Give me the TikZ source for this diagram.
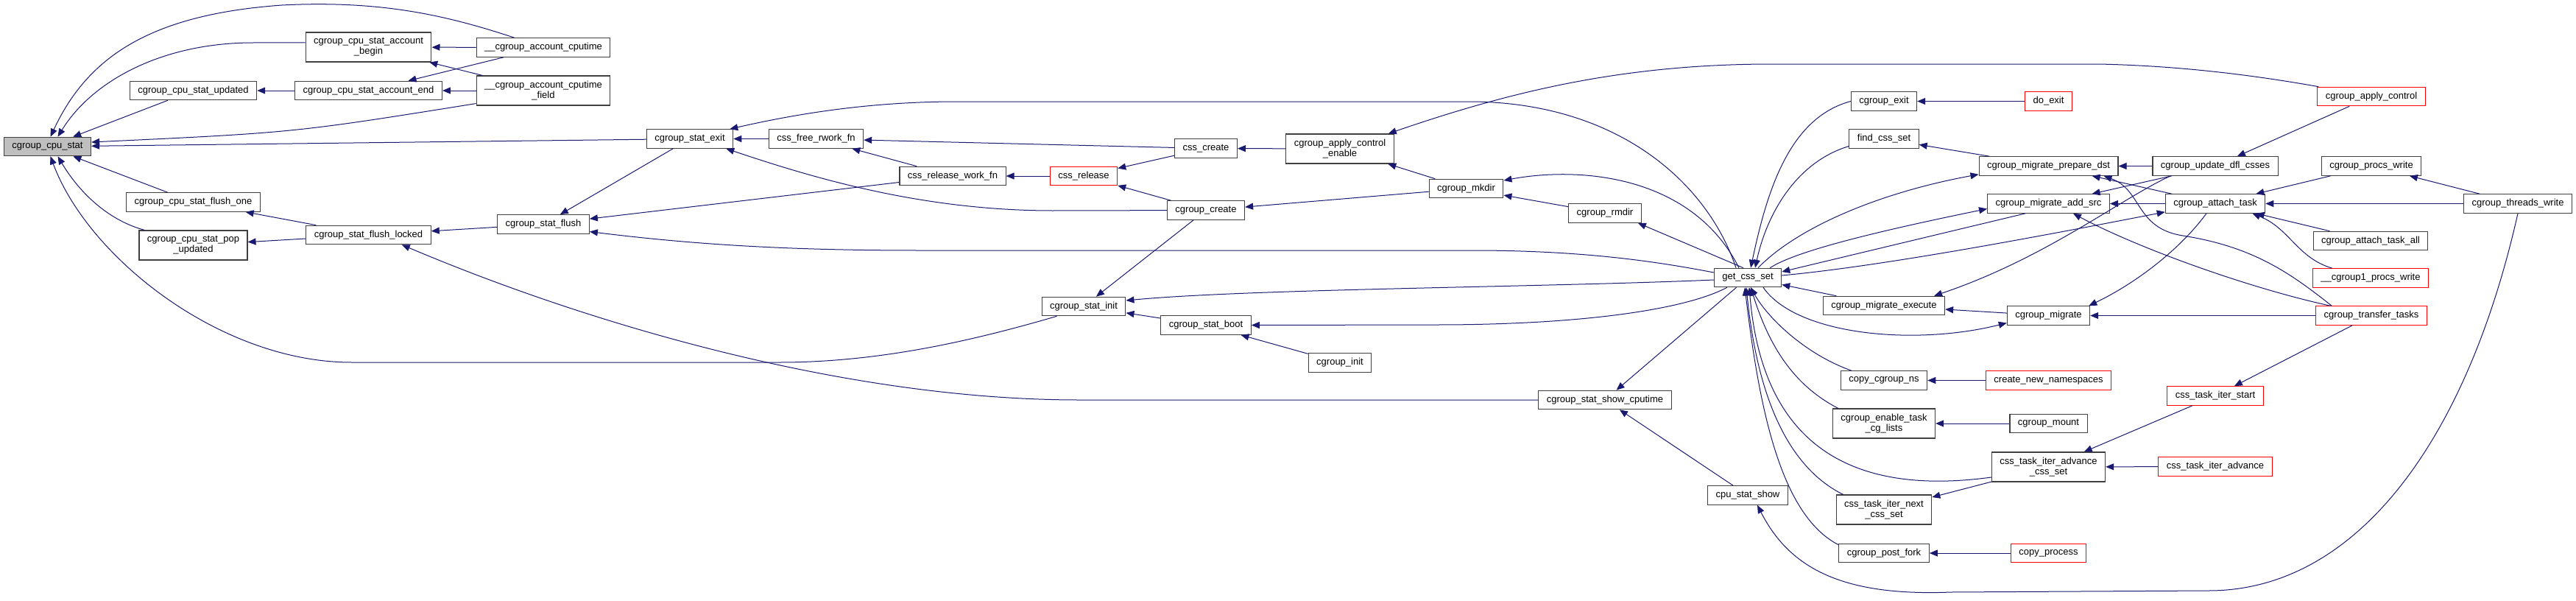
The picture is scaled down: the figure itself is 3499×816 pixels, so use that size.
\documentclass[tikz,border=0pt]{standalone}
\usepackage{fontspec}
\setmainfont{Liberation Sans}
\usepackage{tikz}
\usetikzlibrary{arrows.meta, calc}
\definecolor{edgecol}{RGB}{25,25,112}
\definecolor{rootgray}{RGB}{191,191,191}

\begin{document}
\begin{tikzpicture}[
        x=1pt, y=-1pt,
        box/.style={draw=black!75, fill=white, line width=1.1pt, inner xsep=11pt, inner ysep=2pt, minimum height=25.5pt, align=center, font=\fontsize{13}{14}\selectfont},
        tall/.style={box, minimum height=40pt},
        redbox/.style={box, draw=red},
        rootbox/.style={box, fill=rootgray},
        arr/.style={{Triangle[length=11pt, width=9pt]}-, draw=edgecol, line width=1pt}
      ]
        \useasboundingbox (0,0) rectangle (3499,816);
        \node[rootbox] (cpustat)     at (64.5,199)   {cgroup\_cpu\_stat};
        \node[tall]    (acctbegin)   at (500.5,64)   {cgroup\_cpu\_stat\_account\\\_begin};
        \node[box]     (statupdated) at (262.5,123)  {cgroup\_cpu\_stat\_updated};
        \node[box]     (acctend)     at (500.5,123)  {cgroup\_cpu\_stat\_account\_end};
        \node[box]     (flushone)    at (262.5,274.5){cgroup\_cpu\_stat\_flush\_one};
        \node[tall]    (popupdated)  at (262.5,333)  {cgroup\_cpu\_stat\_pop\\\_updated};
        \node[box]     (flushlocked) at (500.5,319)  {cgroup\_stat\_flush\_locked};
        \node[box]     (acctcputime) at (738,64.5)   {\_\_cgroup\_account\_cputime};
        \node[tall]    (acctfield)   at (738,123)    {\_\_cgroup\_account\_cputime\\\_field};
        \node[box]     (statexit)    at (937,188.5)  {cgroup\_stat\_exit};
        \node[box]     (freerwork)   at (1108.5,188.5) {css\_free\_rwork\_fn};
        \node[box]     (statflush)   at (738,304.5)  {cgroup\_stat\_flush};
        \node[box]     (releasework) at (1294,239)   {css\_release\_work\_fn};
        \node[redbox]  (cssrelease)  at (1472,239)   {css\_release};
        \node[box]     (csscreate)   at (1638,201.5) {css\_create};
        \node[box]     (cgcreate)    at (1638,285.5) {cgroup\_create};
        \node[box]     (statinit)    at (1472,416)   {cgroup\_stat\_init};
        \node[box]     (statboot)    at (1638,441.5) {cgroup\_stat\_boot};
        \node[tall]    (applyenable) at (1820,202)   {cgroup\_apply\_control\\\_enable};
        \node[box]     (mkdir)       at (1991.5,256) {cgroup\_mkdir};
        \node[box]     (rmdir)       at (2180,289.5) {cgroup\_rmdir};
        \node[box]     (cginit)      at (1820,492.5) {cgroup\_init};
        \node[box]     (showcputime) at (2180,543)   {cgroup\_stat\_show\_cputime};
        \node[box]     (cpustatshow) at (2374,672.5) {cpu\_stat\_show};
        \node[box]     (getcssset)   at (2374,377)   {get\_css\_set};
        \node[box]     (cgexit)      at (2559,137.5) {cgroup\_exit};
        \node[redbox]  (doexit)      at (2782.5,137.5) {do\_exit};
        \node[box]     (findcssset)  at (2559,188.5) {find\_css\_set};
        \node[box]     (preparedst)  at (2782.5,225.5) {cgroup\_migrate\_prepare\_dst};
        \node[box]     (addsrc)      at (2782.5,276.5) {cgroup\_migrate\_add\_src};
        \node[box]     (migexec)     at (2559,415)   {cgroup\_migrate\_execute};
        \node[box]     (migrate)     at (2782.5,428.5) {cgroup\_migrate};
        \node[box]     (copyns)      at (2559,516.5) {copy\_cgroup\_ns};
        \node[redbox]  (newns)       at (2782.5,516.5) {create\_new\_namespaces};
        \node[tall]    (enablelists) at (2559,575)   {cgroup\_enable\_task\\\_cg\_lists};
        \node[box]     (mount)       at (2782.5,575) {cgroup\_mount};
        \node[tall]    (iteradvset)  at (2782.5,634) {css\_task\_iter\_advance\\\_css\_set};
        \node[tall]    (iternextset) at (2559,692)   {css\_task\_iter\_next\\\_css\_set};
        \node[box]     (postfork)    at (2559,751)   {cgroup\_post\_fork};
        \node[redbox]  (copyprocess) at (2782.5,751) {copy\_process};
        \node[redbox]  (applycontrol) at (3221,131)  {cgroup\_apply\_control};
        \node[box]     (updatedfl)   at (3009,225.5) {cgroup\_update\_dfl\_csses};
        \node[box]     (procswrite)  at (3221,225.5) {cgroup\_procs\_write};
        \node[box]     (attachtask)  at (3009,276.5) {cgroup\_attach\_task};
        \node[box]     (threadswrite) at (3420,276.5) {cgroup\_threads\_write};
        \node[box]     (attachall)   at (3220,327)   {cgroup\_attach\_task\_all};
        \node[redbox]  (procsonewrite) at (3220,377.5) {\_\_cgroup1\_procs\_write};
        \node[redbox]  (transfertasks) at (3221,428.5) {cgroup\_transfer\_tasks};
        \node[redbox]  (iterstart)   at (3009,537.5) {css\_task\_iter\_start};
        \node[redbox]  (iteradvance) at (3009,633.5) {css\_task\_iter\_advance};

        \draw[arr] ($(cpustat.north)+(4,0)$) .. controls (118,80) and (200,20) .. (383,7) .. controls (520,0) and (610,22) .. ($(acctcputime.north west)+(52,0)$);
        \draw[arr] ($(cpustat.north)+(14,0)$) .. controls (125,110) and (220,58) .. (344,58) -- ($(acctbegin.west)+(0,-6)$);
        \draw[arr] (cpustat) -- (statupdated);
        \draw[arr] ($(cpustat.east)+(0,-6)$) .. controls (400,180) .. ($(acctfield.south west)+(0,-3)$);
        \draw[arr] (cpustat) -- (statexit);
        \draw[arr] (cpustat) -- (flushone);
        \draw[arr] ($(cpustat.south)+(14,0)$) .. controls (110,265) and (150,300) .. ($(popupdated.north west)+(8,0)$);
        \draw[arr] ($(cpustat.south)+(4,0)$) .. controls (120,350) and (300,492) .. (478,492) -- (1058,492) .. controls (1200,492) and (1330,460) .. ($(statinit.south west)+(21,0)$);
        \draw[arr] (acctbegin) -- (acctcputime);
        \draw[arr] (acctbegin) -- (acctfield);
        \draw[arr] (acctend) -- (acctcputime);
        \draw[arr] (acctend) -- (acctfield);
        \draw[arr] (statupdated) -- (acctend);
        \draw[arr] (flushone) -- (flushlocked);
        \draw[arr] (popupdated) -- (flushlocked);
        \draw[arr] (flushlocked) -- (statflush);
        \draw[arr] ($(flushlocked.south east)+(-40,0)$) .. controls (800,440) and (1150,543) .. (1466,543) -- (showcputime);
        \draw[arr] (statflush) -- (statexit);
        \draw[arr] (statflush) -- (releasework);
        \draw[arr] ($(statflush.east)+(0,10)$) .. controls (950,333) and (1080,340) .. (1250,340) -- (2000,340) .. controls (2150,340) and (2250,355) .. ($(getcssset.west)+(0,-7)$);
        \draw[arr] ($(statexit.south east)+(-10,0)$) .. controls (1100,240) and (1250,286) .. (1430,286) -- (cgcreate);
        \draw[arr] (statexit) -- (freerwork);
        \draw[arr] (freerwork) -- (releasework);
        \draw[arr] (freerwork) -- (csscreate);
        \draw[arr] (releasework) -- (cssrelease);
        \draw[arr] (cssrelease) -- (csscreate);
        \draw[arr] (cssrelease) -- (cgcreate);
        \draw[arr] (csscreate) -- (applyenable);
        \draw[arr] (cgcreate) -- (mkdir);
        \draw[arr] (statinit) -- (cgcreate);
        \draw[arr] ($(statinit.east)+(0,-8)$) .. controls (1700,392) and (2100,390) .. ($(getcssset.west)+(0,3)$);
        \draw[arr] (statinit) -- (statboot);
        \draw[arr] (statboot.east) -- (1950,441) .. controls (2150,441) and (2290,420) .. ($(getcssset.south west)+(18,0)$);
        \draw[arr] (statboot) -- (cginit);
        \draw[arr] (showcputime) -- (getcssset);
        \draw[arr] (showcputime) -- (cpustatshow);
        \draw[arr] ($(applyenable.north east)+(-8,0)$) .. controls (2050,125) and (2200,88) .. (2400,87) -- (2850,87) .. controls (2950,89) and (3050,100) .. ($(applycontrol.north west)+(2,0)$);
        \draw[arr] (applyenable) -- (mkdir);
        \draw[arr] ($(mkdir.east)+(0,-11)$) .. controls (2150,225) and (2300,240) .. ($(getcssset.north)+(-12,0)$);
        \draw[arr] ($(statexit.north east)+(-5,0)$) .. controls (1080,155) and (1180,138) .. (1300,138) -- (2000,138) .. controls (2200,140) and (2320,250) .. ($(getcssset.north)+(-16,0)$);
        \draw[arr] ($(rmdir.south east)+(-5,0)$) -- ($(getcssset.north)+(-6,0)$);
        \draw[arr] (mkdir) -- (rmdir);
        \draw[arr] ($(getcssset.north)+(4,0)$) .. controls (2400,260) and (2430,160) .. (cgexit.west);
        \draw[arr] ($(getcssset.north)+(10,0)$) .. controls (2400,290) and (2440,220) .. ($(findcssset.west)+(0,10)$);
        \draw[arr] ($(preparedst.south west)+(0,-2)$) .. controls (2550,262) and (2440,310) .. ($(getcssset.north)+(14,0)$);
        \draw[arr] ($(addsrc.west)+(0,7)$) .. controls (2560,312) and (2440,340) .. ($(getcssset.north east)+(-16,0)$);
        \draw[arr] ($(getcssset.east)+(0,-8)$) -- ($(addsrc.south west)+(52,0)$);
        \draw[arr] ($(attachtask.south west)+(0,-2)$) .. controls (2750,325) and (2550,362) .. ($(getcssset.east)+(0,-3)$);
        \draw[arr] (getcssset) -- (migexec);
        \draw[arr] ($(migrate.west)+(0,10)$) .. controls (2600,470) and (2440,455) .. ($(getcssset.south)+(21,0)$);
        \draw[arr] (migexec) -- (migrate);
        \draw[arr] ($(migexec.north east)+(-15,0)$) .. controls (2780,350) and (2880,270) .. ($(updatedfl.south west)+(25,0)$);
        \draw[arr] (preparedst) -- (updatedfl);
        \draw[arr] (preparedst) -- (attachtask);
        \draw[arr] (addsrc) -- (updatedfl);
        \draw[arr] (addsrc) -- (attachtask);
        \draw[arr] ($(preparedst.south east)+(-20,0)$) .. controls (2910,258) and (2900,310) .. (2965,320) .. controls (3060,335) and (3110,370) .. ($(transfertasks.north west)+(22,0)$);
        \draw[arr] ($(addsrc.south east)+(-50,0)$) .. controls (2900,335) and (3050,390) .. ($(transfertasks.north west)+(20,0)$);
        \draw[arr] ($(migrate.north east)+(-2,0)$) .. controls (2900,385) and (2960,340) .. ($(attachtask.south)+(-12,0)$);
        \draw[arr] (migrate) -- (transfertasks);
        \draw[arr] ($(getcssset.south)+(4,0)$) .. controls (2400,430) and (2450,480) .. ($(copyns.north west)+(15,0)$);
        \draw[arr] (copyns) -- (newns);
        \draw[arr] ($(getcssset.south)+(4,0)$) .. controls (2400,460) and (2430,520) .. ($(enablelists.north west)+(8,0)$);
        \draw[arr] (enablelists) -- (mount);
        \draw[arr] ($(getcssset.south)+(2,0)$) .. controls (2390,560) and (2470,680) .. ($(iteradvset.west)+(0,14)$);
        \draw[arr] (iternextset) -- (iteradvset);
        \draw[arr] ($(getcssset.south)+(-2,0)$) .. controls (2385,520) and (2420,630) .. ($(iternextset.north west)+(10,0)$);
        \draw[arr] ($(getcssset.south)+(-4,0)$) .. controls (2390,560) and (2420,700) .. ($(postfork.north west)+(0,2)$);
        \draw[arr] (postfork) -- (copyprocess);
        \draw[arr] ($(cpustatshow.south)+(13,0)$) .. controls (2430,770) and (2500,810) .. (2650,804) -- (3000,802) .. controls (3200,802) and (3350,600) .. (threadswrite.south);
        \draw[arr] (updatedfl) -- (applycontrol);
        \draw[arr] (attachtask) -- (procswrite);
        \draw[arr] (procswrite) -- (threadswrite);
        \draw[arr] (attachtask) -- (threadswrite);
        \draw[arr] (attachtask) -- (attachall);
        \draw[arr] ($(attachtask.south east)+(-18,0)$) .. controls (3110,310) and (3120,350) .. ($(procsonewrite.north west)+(27,0)$);
        \draw[arr] (iterstart) -- (transfertasks);
        \draw[arr] (iteradvset) -- (iterstart);
        \draw[arr] (iteradvset) -- (iteradvance);
        \draw[arr] (cgexit) -- (doexit);
        \draw[arr] (findcssset) -- (preparedst);
      \end{tikzpicture}
\end{document}
